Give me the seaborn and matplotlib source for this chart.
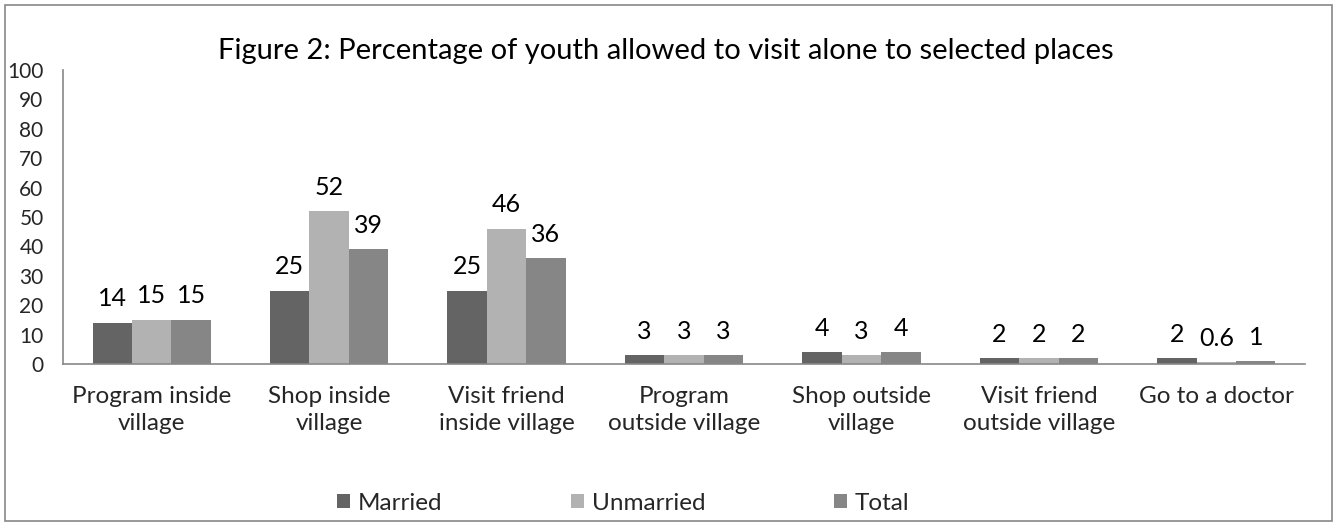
import matplotlib
matplotlib.use("Agg")
import matplotlib.pyplot as plt
import seaborn as sns
import pandas as pd
from matplotlib.patches import Rectangle

categories = ["Program inside\nvillage", "Shop inside\nvillage", "Visit friend\ninside village",
              "Program\noutside village", "Shop outside\nvillage", "Visit friend\noutside village",
              "Go to a doctor"]
married = [14, 25, 25, 3, 4, 2, 2]
unmarried = [15, 52, 46, 3, 3, 2, 0.6]
total = [15, 39, 36, 3, 4, 2, 1]
series_names = ["Married", "Unmarried", "Total"]
yticks = list(range(0, 101, 10))

rows = []
for name, vals in zip(series_names, [married, unmarried, total]):
    for c, v in zip(categories, vals):
        rows.append({"cat": c, "series": name, "value": v})
df = pd.DataFrame(rows)

sns.set_theme(style="white")
plt.rcParams['font.family'] = ['Lato', 'DejaVu Sans']

fig = plt.figure(figsize=(13.38, 5.26), dpi=100)
ax = fig.add_axes([63/1338, 1-364/526, (1305-63)/1338, (364-70)/526])

palette = ["#646464", "#b2b2b2", "#868686"]
sns.barplot(data=df, x="cat", y="value", hue="series", palette=palette,
            width=0.667, ax=ax, saturation=1, legend=True, linewidth=0)

for cont, vals in zip(ax.containers, [married, unmarried, total]):
    labels = [("%g" % v) for v in vals]
    ax.bar_label(cont, labels=labels, padding=9, fontsize=18, color="#000000")

ax.set_ylim(0, 100)
ax.set_yticks(yticks)
ax.set_xlim(-0.5, len(categories) - 0.5)
ax.set_xlabel("")
ax.set_ylabel("")
ax.tick_params(axis="y", labelsize=15, length=0, pad=14)
ax.tick_params(axis="x", labelsize=17.5, length=0, pad=16)
for lbl in ax.get_xticklabels():
    lbl.set_linespacing(1.35)
for s in ["top", "right"]:
    ax.spines[s].set_visible(False)
for s in ["left", "bottom"]:
    ax.spines[s].set_color("#888888")
    ax.spines[s].set_linewidth(1.2)

ax.set_title("Figure 2: Percentage of youth allowed to visit alone to selected places",
             fontsize=21, pad=8, color="#000000", x=(666-63)/1242)

leg = ax.get_legend()
handles, labels = ax.get_legend_handles_labels()
leg.remove()
fig.legend(handles, labels, loc="center", bbox_to_anchor=(623/1338, 1-503/526), ncol=3,
           frameon=False, fontsize=17.5, handlelength=0.55, handleheight=0.55,
           columnspacing=5.3, handletextpad=0.3)

fig.patches.append(Rectangle((5/1338, 5/526), 1327/1338, 516/526, transform=fig.transFigure,
                             fill=False, edgecolor="#888888", linewidth=1.2))

fig.savefig("out.png", dpi=100)
